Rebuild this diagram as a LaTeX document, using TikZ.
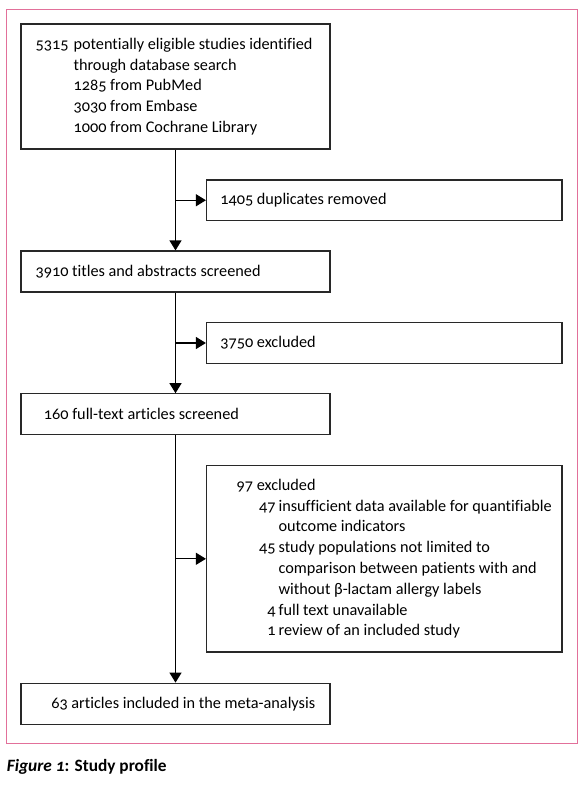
\documentclass[tikz,border=0pt]{standalone}
\usepackage{fontspec}
\setmainfont{Carlito}[Numbers=OldStyle,Ligatures=NoCommon]
\usetikzlibrary{arrows.meta}
\definecolor{framepink}{RGB}{226,112,154}
\definecolor{boxline}{RGB}{40,40,40}
\begin{document}
\begin{tikzpicture}[x=1pt,y=-1pt,
  fbox/.style={draw=boxline,line width=1.2pt,rectangle,inner sep=0pt},
  lbox/.style={fbox,minimum width=309pt},
  rbox/.style={fbox,minimum width=355.5pt},
  txt/.style={anchor=west,align=left,inner sep=0pt,font=\fontsize{16.25}{20.8}\selectfont},
  arr/.style={draw=black,line width=1.2pt,-{Triangle[length=10pt,width=12pt]}},
  ln/.style={draw=black,line width=1.2pt}]
\useasboundingbox (0,0) rectangle (586,794);
\node[draw=framepink,line width=1pt,minimum width=571.2pt,minimum height=734pt,inner sep=0pt] (frame) at (291.9,376.3) {};
% boxes
\node[lbox,minimum height=125pt] (b1) at (175.5,86.5) {};
\node[rbox,minimum height=40.5pt] (dup) at (384.25,200.25) {};
\node[lbox,minimum height=41pt] (b2) at (175.5,271.5) {};
\node[rbox,minimum height=41pt] (ex1) at (384.25,343) {};
\node[lbox,minimum height=41pt] (b3) at (175.5,414.3) {};
\node[rbox,minimum height=186.3pt] (ex2) at (384.25,558.8) {};
\node[lbox,minimum height=41pt] (b4) at (175.5,703.7) {};
% texts
\node[txt] (t1) at ([xshift=15pt]b1.west) {\makebox[38pt][l]{5315}potentially eligible studies identified\\
\hspace*{38pt}through database search\\
\hspace*{38pt}1285 from PubMed\\
\hspace*{38pt}3030 from Embase\\
\hspace*{38pt}1000 from Cochrane Library};
\node[txt] (tdup) at ([xshift=14.2pt]dup.west) {1405 duplicates removed};
\node[txt] (t2) at ([xshift=15pt]b2.west) {3910 titles and abstracts screened};
\node[txt] (tex1) at ([xshift=14.2pt]ex1.west) {3750 excluded};
\node[txt] (t3) at ([xshift=23.3pt]b3.west) {160 full-text articles screened};
\node[txt] (tex2) at ([xshift=30.5pt]ex2.west) {97 excluded\\
\makebox[39pt][r]{47}\hspace{3pt}insufficient data available for quantifiable\\
\hspace*{42pt}outcome indicators\\
\makebox[39pt][r]{45}\hspace{3pt}study populations not limited to\\
\hspace*{42pt}comparison between patients with and\\
\hspace*{42pt}without β-lactam allergy labels\\
\makebox[39pt][r]{4}\hspace{3pt}full text unavailable\\
\makebox[39pt][r]{1}\hspace{3pt}review of an included study};
\node[txt] (t4) at ([xshift=30.7pt]b4.west) {63 articles included in the meta-analysis};
% connectors
\coordinate (j1) at (b1.south |- dup.west);
\coordinate (j2) at (b2.south |- ex1.west);
\coordinate (j3) at (b3.south |- ex2.west);
\draw[arr] (b1.south) -- (b2.north);
\draw[arr] (j1) -- (dup.west);
\draw[arr] (b2.south) -- (b3.north);
\draw[arr] (j2) -- (ex1.west);
\draw[arr] (b3.south) -- (b4.north);
\draw[arr] (j3) -- (ex2.west);
% caption
\node[anchor=west,inner sep=0pt,font=\fontsize{17.3}{20}\selectfont] (cap) at (6.7,766.7) {\textbf{\textit{Figure 1}: Study profile}};
\end{tikzpicture}
\end{document}
